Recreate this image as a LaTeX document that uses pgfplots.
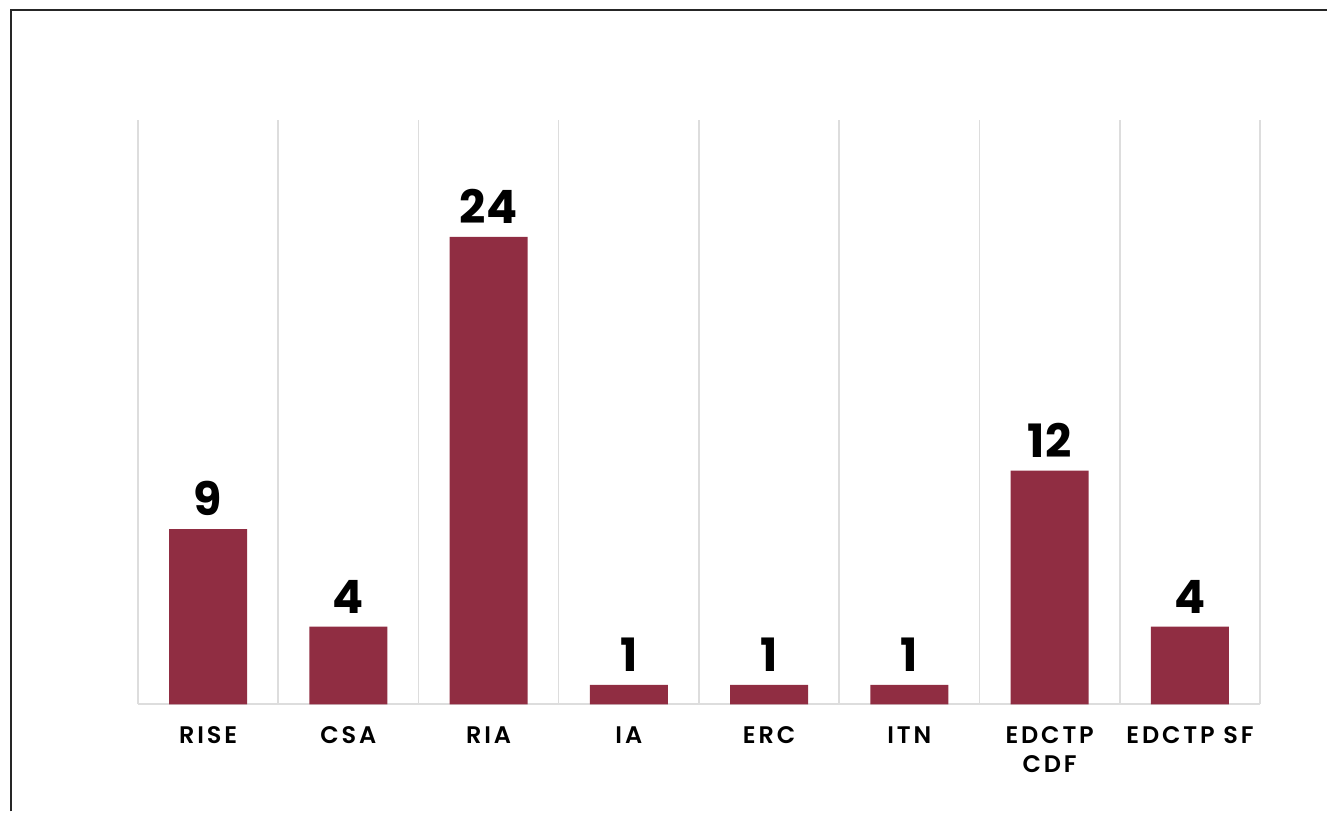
\documentclass[border=0pt]{standalone}
\usepackage{pgfplots}
\pgfplotsset{compat=1.18}
\usepackage{fontspec}
\setmainfont{Poppins}
\newfontfamily\lblfont[LetterSpace=12]{Poppins SemiBold}
\newfontfamily\numfont{Poppins Bold}
\definecolor{barred}{RGB}{144,45,66}
\definecolor{gridgray}{RGB}{221,221,221}
\begin{document}
\begin{tikzpicture}[x=1pt,y=1pt]
\path (0,0) rectangle (664,-406);
\draw[line width=1pt, black!85] (5.5,-406) -- (5.5,-5) -- (664,-5);
\begin{axis}[
  at={(69pt,-352.5pt)}, anchor=south west,
  scale only axis, width=561.5pt, height=292.5pt,
  xmin=-0.5, xmax=7.5, ymin=0, ymax=30,
  axis x line*=bottom, axis y line=none,
  x axis line style={gridgray, line width=1pt, -},
  xtick=data,
  xticklabels={RISE,CSA,RIA,IA,ERC,ITN,{EDCTP\\CDF},EDCTP SF},
  xticklabel style={font=\lblfont\fontsize{12}{14.5}\selectfont, align=center, yshift=-7.5pt, anchor=north},
  major tick length=0pt,
  minor xtick={-0.5,0.5,...,7.5},
  minor tick length=0pt,
  xminorgrids, minor grid style={gridgray, line width=0.75pt},
  ytick=\empty,
  ybar, bar width=39pt,
  /pgf/number format/assume math mode=true,
  nodes near coords,
  nodes near coords style={font=\numfont\fontsize{23}{23}\selectfont, anchor=south, yshift=3pt},
  clip=false,
]
\addplot[fill=barred, draw=none] coordinates {(0,9) (1,4) (2,24) (3,1) (4,1) (5,1) (6,12) (7,4)};
\end{axis}
\end{tikzpicture}
\end{document}
